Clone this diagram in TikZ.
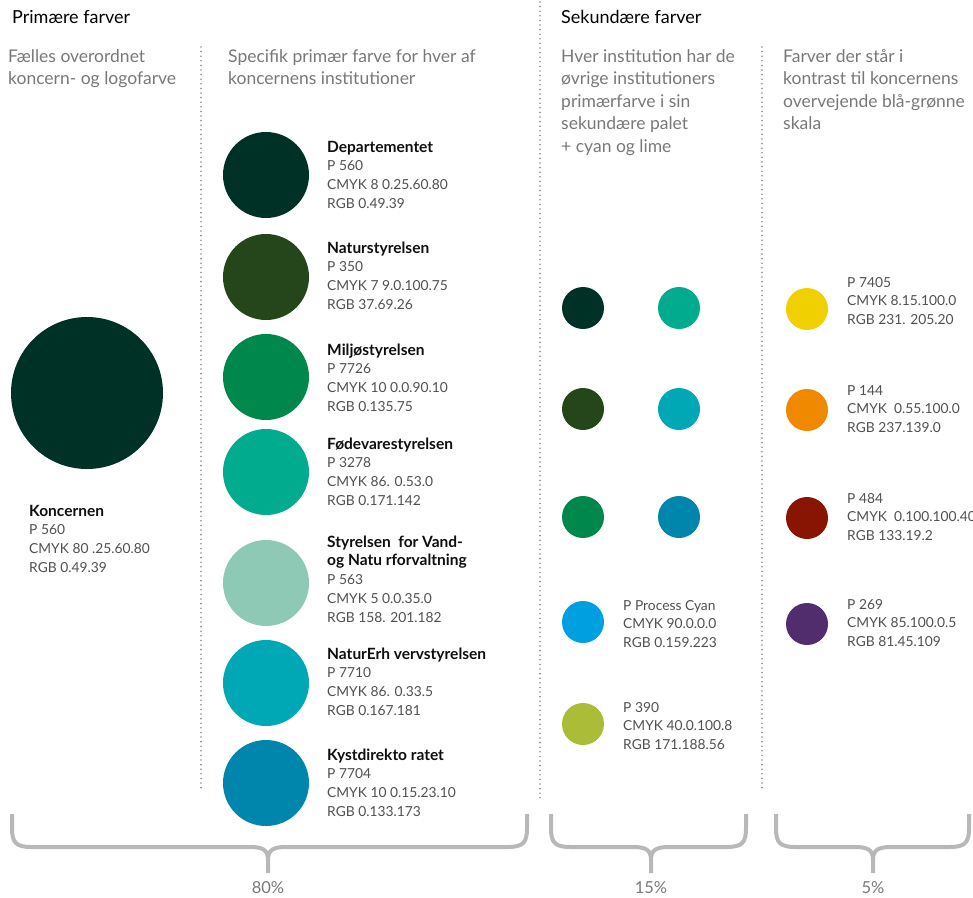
\documentclass[tikz,border=0pt]{standalone}
\usepackage{fontspec}
\setmainfont{Lato}
\definecolor{cDep}{RGB}{0,49,39}
\definecolor{cNst}{RGB}{37,69,26}
\definecolor{cMst}{RGB}{0,135,75}
\definecolor{cFvst}{RGB}{0,171,142}
\definecolor{cSvana}{RGB}{142,201,182}
\definecolor{cNaer}{RGB}{0,167,181}
\definecolor{cKyst}{RGB}{0,133,173}
\definecolor{cCyan}{RGB}{0,159,223}
\definecolor{cLime}{RGB}{171,188,56}
\definecolor{cYellow}{RGB}{240,208,0}
\definecolor{cOrange}{RGB}{240,136,0}
\definecolor{cRed}{RGB}{136,20,4}
\definecolor{cPurple}{RGB}{82,45,109}
\definecolor{infogray}{RGB}{80,80,80}
\definecolor{subgray}{RGB}{120,120,120}
\definecolor{bracegray}{RGB}{184,184,184}
\definecolor{dotgray}{RGB}{140,140,140}
\definecolor{boldblack}{RGB}{15,15,15}
\newcommand{\infostack}[1]{\begin{tabular}[t]{@{}l@{}}#1\end{tabular}}
\newcommand{\bt}[1]{{\fontsize{15.5}{18.8}\selectfont\bfseries\color{boldblack}#1}}
\tikzset{
  dotline/.style={draw=dotgray, line width=1.8pt, dash pattern=on 0pt off 4.6pt, line cap=round},
  swatch/.style={circle, inner sep=0pt, minimum size=#1},
  info/.style={anchor=base west, inner sep=0pt, text=infogray,
    font={\fontsize{13.8}{18.8}\selectfont}},
  head/.style={anchor=base west, inner sep=0pt, text=black,
    font={\fontsize{18}{22}\selectfont}},
  subhead/.style={anchor=base west, inner sep=0pt, text=subgray,
    font={\fontsize{17.5}{22.5}\selectfont}},
  bracestyle/.style={draw=bracegray, line width=4pt},
  pct/.style={anchor=center, inner sep=0pt, text=subgray, font={\fontsize{16.5}{18}\selectfont}}
}
\begin{document}
\begin{tikzpicture}[x=1pt,y=-1pt]
\useasboundingbox (0,0) rectangle (973,897);
% dotted separators
\draw[dotline] (201,47) -- (201,791);
\draw[dotline] (540,2) -- (540,802);
\draw[dotline] (762,47) -- (762,792);
% headers
\node[head] (h1) at (12,23) {Primære farver};
\node[head] (h2) at (561,23) {Sekundære farver};
\node[subhead] (s1) at (8,62) {\infostack{Fælles overordnet\\koncern- og logofarve}};
\node[subhead] (s2) at (228,62) {\infostack{Specifik primær farve for hver af\\koncernens institutioner}};
\node[subhead] (s3) at (561,62) {\infostack{Hver institution har de\\øvrige institutioners\\primærfarve i sin\\sekundære palet\\+ cyan og lime}};
\node[subhead] (s4) at (783,62) {\infostack{Farver der står i\\kontrast til koncernens\\overvejende blå-grønne\\skala}};
% big circle
\node[swatch=152pt, fill=cDep] (koncern) at (87,393) {};
\node[info] (koncernT) at (29,516) {\infostack{\bt{Koncernen}\\P 560\\CMYK 80 .25.60.80\\RGB 0.49.39}};
% institution circles
\node[swatch=86pt, fill=cDep] (dep) at (266,175) {};
\node[swatch=86pt, fill=cNst] (nst) at (266,277) {};
\node[swatch=86pt, fill=cMst] (mst) at (266,377) {};
\node[swatch=86pt, fill=cFvst] (fvst) at (266,472) {};
\node[swatch=86pt, fill=cSvana] (svana) at (266,583) {};
\node[swatch=86pt, fill=cNaer] (naer) at (266,683) {};
\node[swatch=86pt, fill=cKyst] (kyst) at (266,783) {};
\node[info] (depT) at (327,152) {\infostack{\bt{Departementet}\\P 560\\CMYK 8 0.25.60.80\\RGB 0.49.39}};
\node[info] (nstT) at (327,253) {\infostack{\bt{Naturstyrelsen}\\P 350\\CMYK 7 9.0.100.75\\RGB 37.69.26}};
\node[info] (mstT) at (327,355) {\infostack{\bt{Miljøstyrelsen}\\P 7726\\CMYK 10 0.0.90.10\\RGB 0.135.75}};
\node[info] (fvstT) at (327,449) {\infostack{\bt{Fødevarestyrelsen}\\P 3278\\CMYK 86. 0.53.0\\RGB 0.171.142}};
\node[info] (svanaT) at (327,547) {\infostack{\bt{Styrelsen\ \ for Vand-}\\\bt{og Natu rforvaltning}\\P 563\\CMYK 5 0.0.35.0\\RGB 158. 201.182}};
\node[info] (naerT) at (327,659) {\infostack{\bt{NaturErh vervstyrelsen}\\P 7710\\CMYK 86. 0.33.5\\RGB 0.167.181}};
\node[info] (kystT) at (327,760) {\infostack{\bt{Kystdirekto ratet}\\P 7704\\CMYK 10 0.15.23.10\\RGB 0.133.173}};
% secondary palette
\node[swatch=42pt, fill=cDep] (sec1) at (583,308) {};
\node[swatch=42pt, fill=cNst] (sec2) at (583,409) {};
\node[swatch=42pt, fill=cMst] (sec3) at (583,517) {};
\node[swatch=42pt, fill=cFvst] (sec4) at (679,308) {};
\node[swatch=42pt, fill=cNaer] (sec5) at (679,409) {};
\node[swatch=42pt, fill=cKyst] (sec6) at (679,517) {};
\node[swatch=42pt, fill=cCyan] (cyan) at (583,622) {};
\node[swatch=42pt, fill=cLime] (lime) at (583,724) {};
\node[info] (cyanT) at (623,610) {\infostack{P Process Cyan\\CMYK 90.0.0.0\\RGB 0.159.223}};
\node[info] (limeT) at (623,712) {\infostack{P 390\\CMYK 40.0.100.8\\RGB 171.188.56}};
% contrast colours
\node[swatch=42pt, fill=cYellow] (yel) at (807,309) {};
\node[swatch=42pt, fill=cOrange] (ora) at (807,410) {};
\node[swatch=42pt, fill=cRed] (red) at (807,518) {};
\node[swatch=42pt, fill=cPurple] (pur) at (807,624) {};
\node[info] (yelT) at (847,287) {\infostack{P 7405\\CMYK 8.15.100.0\\RGB 231. 205.20}};
\node[info] (oraT) at (847,395) {\infostack{P 144\\CMYK\ \ 0.55.100.0\\RGB 237.139.0}};
\node[info] (redT) at (847,503) {\infostack{P 484\\CMYK\ \ 0.100.100.40\\RGB 133.19.2}};
\node[info] (purT) at (847,609) {\infostack{P 269\\CMYK 85.100.0.5\\RGB 81.45.109}};
% braces
\draw[bracestyle] (12,814) -- (12,828) .. controls (12,843) and (16,847) .. (32,847) -- (250,847) .. controls (263,847) and (268,850) .. (268,860) -- (268,873);
\draw[bracestyle] (527,814) -- (527,828) .. controls (527,843) and (523,847) .. (507,847) -- (286,847) .. controls (273,847) and (268,850) .. (268,860);
\draw[bracestyle] (551,814) -- (551,828) .. controls (551,843) and (555,847) .. (571,847) -- (633,847) .. controls (646,847) and (651,850) .. (651,860) -- (651,873);
\draw[bracestyle] (746,814) -- (746,828) .. controls (746,843) and (742,847) .. (726,847) -- (669,847) .. controls (656,847) and (651,850) .. (651,860);
\draw[bracestyle] (776,814) -- (776,828) .. controls (776,843) and (780,847) .. (796,847) -- (855,847) .. controls (868,847) and (873,850) .. (873,860) -- (873,873);
\draw[bracestyle] (969,814) -- (969,828) .. controls (969,843) and (965,847) .. (949,847) -- (891,847) .. controls (878,847) and (873,850) .. (873,860);
\node[pct] (p80) at (268,888) {80\%};
\node[pct] (p15) at (651,888) {15\%};
\node[pct] (p5) at (873,888) {5\%};
\end{tikzpicture}
\end{document}
